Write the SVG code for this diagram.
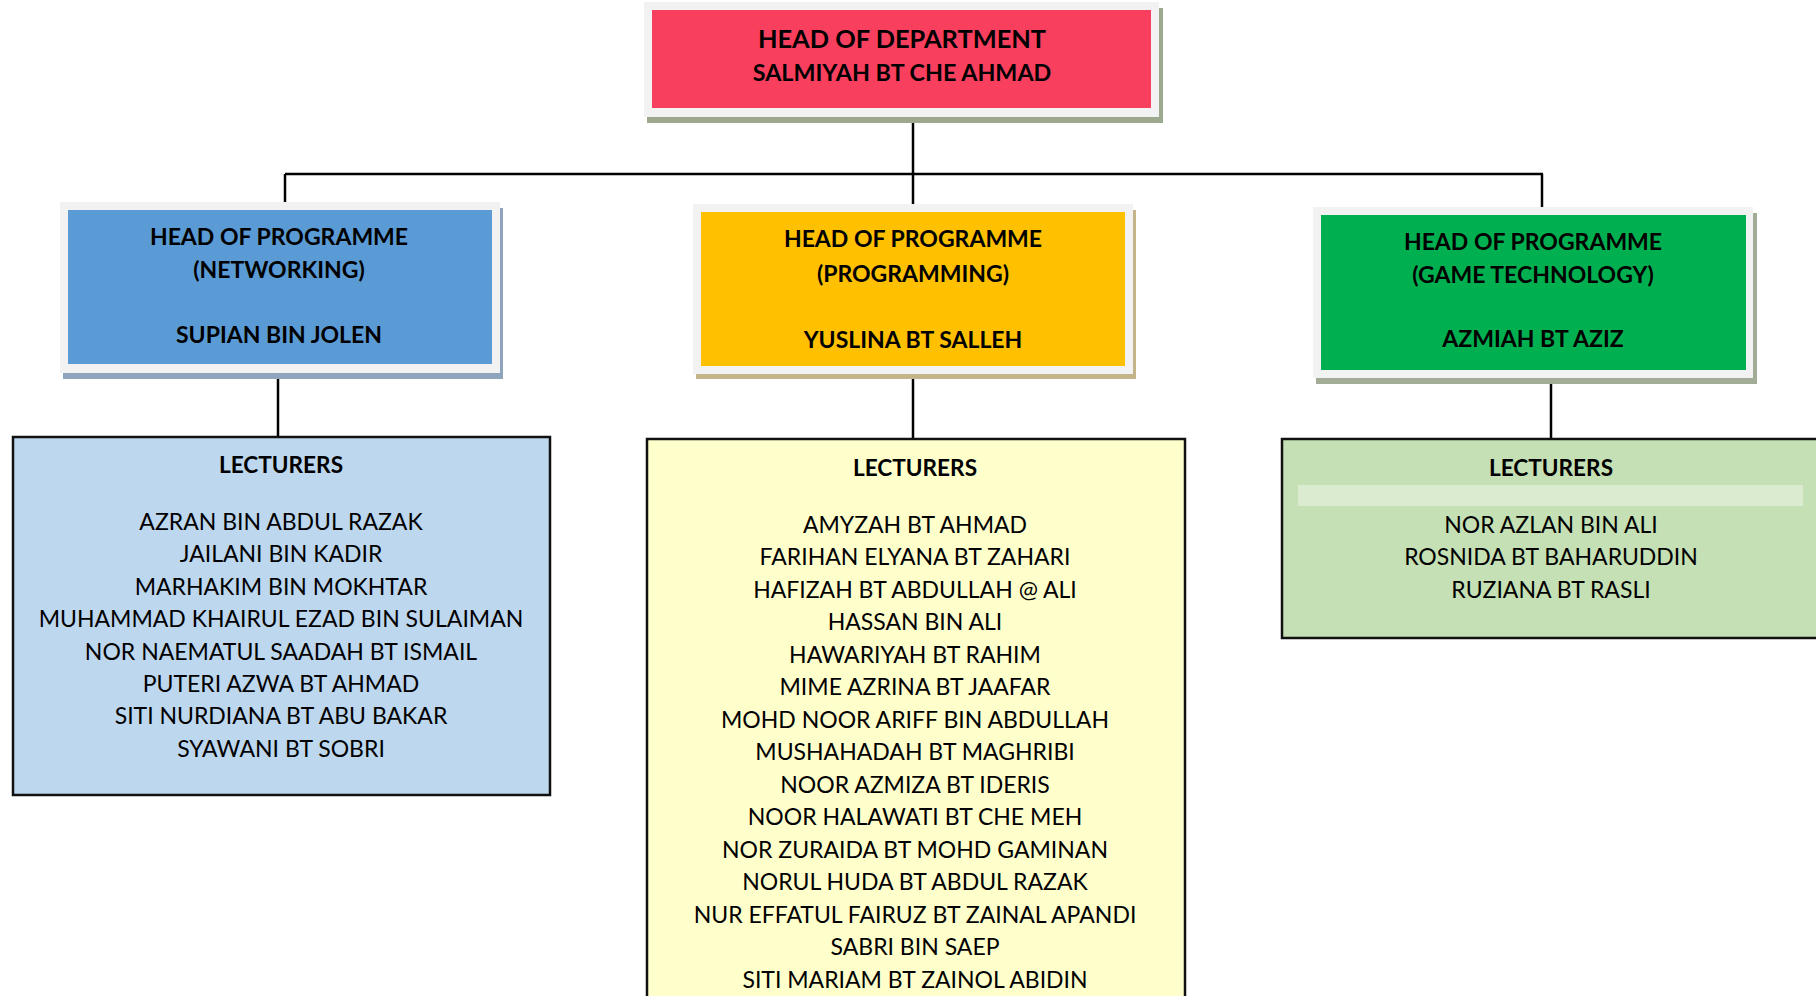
<svg xmlns="http://www.w3.org/2000/svg" width="1816" height="996" viewBox="0 0 1816 996">
  <style>
    .frame { fill: #F2F2F2; }
    .t { font-family: Lato, "Open Sans", "Liberation Sans", sans-serif; fill: #000; text-anchor: middle; }
    .b { font-weight: bold; }
    .title { font-size: 25.4px; }
    .sub { font-size: 23.3px; }
    .ph { font-size: 23px; }
    .lh { font-size: 22.6px; }
    .nm { font-size: 23px; }
    .lect { stroke: #111; stroke-width: 2.5; }
    .conn { stroke: #000; stroke-width: 2.5; fill: none; }
  </style>
  <rect width="1816" height="996" fill="#FFFFFF"/>

  <g id="connectors">
    <line class="conn" x1="913" y1="123" x2="913" y2="174"/>
    <line class="conn" x1="285" y1="174" x2="1543" y2="174"/>
    <line class="conn" x1="285" y1="174" x2="285" y2="210"/>
    <line class="conn" x1="913" y1="174" x2="913" y2="204"/>
    <line class="conn" x1="1542" y1="174" x2="1542" y2="215"/>
    <line class="conn" x1="278" y1="373" x2="278" y2="437"/>
    <line class="conn" x1="913" y1="374" x2="913" y2="439"/>
    <line class="conn" x1="1551" y1="378" x2="1551" y2="439"/>
  </g>

  <g id="head-of-department">
    <rect x="647" y="8" width="516" height="115" fill="#9CA98E"/>
    <rect class="frame" x="644" y="2" width="515" height="115"/>
    <rect x="652" y="10" width="499" height="98" fill="#F83F5E"/>
    <text class="t b title" x="902" y="48">HEAD OF DEPARTMENT</text>
    <text class="t b sub" x="902" y="81">SALMIYAH BT CHE AHMAD</text>
  </g>

  <g id="hop-networking">
    <rect x="63" y="208" width="440" height="171" fill="#8EA5BC"/>
    <rect class="frame" x="60" y="202" width="440" height="171"/>
    <rect x="68" y="210" width="424" height="154" fill="#5B9BD5"/>
    <text class="t b ph" x="279" y="245">HEAD OF PROGRAMME</text>
    <text class="t b ph" x="279" y="278">(NETWORKING)</text>
    <text class="t b ph" x="279" y="343">SUPIAN BIN JOLEN</text>
  </g>

  <g id="hop-programming">
    <rect x="696" y="210" width="440" height="169" fill="#C4B48A"/>
    <rect class="frame" x="693" y="204" width="440" height="170"/>
    <rect x="701" y="212" width="424" height="154" fill="#FFC000"/>
    <text class="t b ph" x="913" y="247">HEAD OF PROGRAMME</text>
    <text class="t b ph" x="913" y="282">(PROGRAMMING)</text>
    <text class="t b ph" x="913" y="348">YUSLINA BT SALLEH</text>
  </g>

  <g id="hop-game-technology">
    <rect x="1316" y="213" width="441" height="171" fill="#A2AC96"/>
    <rect class="frame" x="1313" y="207" width="440" height="171"/>
    <rect x="1321" y="215" width="425" height="155" fill="#00B050"/>
    <text class="t b ph" x="1533" y="250">HEAD OF PROGRAMME</text>
    <text class="t b ph" x="1533" y="283">(GAME TECHNOLOGY)</text>
    <text class="t b ph" x="1533" y="347">AZMIAH BT AZIZ</text>
  </g>

  <g id="lecturers-networking">
    <rect class="lect" x="13" y="437" width="537" height="358" fill="#BDD7EE"/>
    <text class="t b lh" x="281" y="473">LECTURERS</text>
    <text class="t nm" x="281" y="530">AZRAN BIN ABDUL RAZAK</text>
    <text class="t nm" x="281" y="562.4">JAILANI BIN KADIR</text>
    <text class="t nm" x="281" y="594.8">MARHAKIM BIN MOKHTAR</text>
    <text class="t nm" x="281" y="627.2">MUHAMMAD KHAIRUL EZAD BIN SULAIMAN</text>
    <text class="t nm" x="281" y="659.6">NOR NAEMATUL SAADAH BT ISMAIL</text>
    <text class="t nm" x="281" y="692">PUTERI AZWA BT AHMAD</text>
    <text class="t nm" x="281" y="724.4">SITI NURDIANA BT ABU BAKAR</text>
    <text class="t nm" x="281" y="756.8">SYAWANI BT SOBRI</text>
  </g>

  <g id="lecturers-programming">
    <rect class="lect" x="647" y="439" width="538" height="570" fill="#FFFFCC"/>
    <text class="t b lh" x="915" y="476">LECTURERS</text>
    <text class="t nm" x="915" y="532.6">AMYZAH BT AHMAD</text>
    <text class="t nm" x="915" y="565.1">FARIHAN ELYANA BT ZAHARI</text>
    <text class="t nm" x="915" y="597.6">HAFIZAH BT ABDULLAH @ ALI</text>
    <text class="t nm" x="915" y="630.1">HASSAN BIN ALI</text>
    <text class="t nm" x="915" y="662.6">HAWARIYAH BT RAHIM</text>
    <text class="t nm" x="915" y="695.1">MIME AZRINA BT JAAFAR</text>
    <text class="t nm" x="915" y="727.6">MOHD NOOR ARIFF BIN ABDULLAH</text>
    <text class="t nm" x="915" y="760.1">MUSHAHADAH BT MAGHRIBI</text>
    <text class="t nm" x="915" y="792.6">NOOR AZMIZA BT IDERIS</text>
    <text class="t nm" x="915" y="825.1">NOOR HALAWATI BT CHE MEH</text>
    <text class="t nm" x="915" y="857.6">NOR ZURAIDA BT MOHD GAMINAN</text>
    <text class="t nm" x="915" y="890.1">NORUL HUDA BT ABDUL RAZAK</text>
    <text class="t nm" x="915" y="922.6">NUR EFFATUL FAIRUZ BT ZAINAL APANDI</text>
    <text class="t nm" x="915" y="955.1">SABRI BIN SAEP</text>
    <text class="t nm" x="915" y="987.6">SITI MARIAM BT ZAINOL ABIDIN</text>
  </g>

  <g id="lecturers-game-technology">
    <rect class="lect" x="1282" y="439" width="560" height="199" fill="#C5E0B4"/>
    <rect x="1298" y="485" width="505" height="21" fill="#DAEBD0"/>
    <text class="t b lh" x="1551" y="476">LECTURERS</text>
    <text class="t nm" x="1551" y="532.6">NOR AZLAN BIN ALI</text>
    <text class="t nm" x="1551" y="565.1">ROSNIDA BT BAHARUDDIN</text>
    <text class="t nm" x="1551" y="597.6">RUZIANA BT RASLI</text>
  </g>
</svg>
